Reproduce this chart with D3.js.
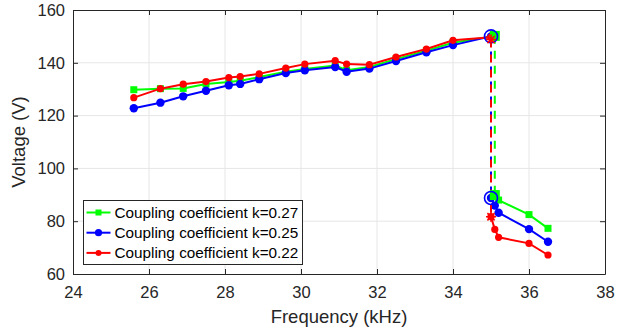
<!DOCTYPE html>
<html>
<head>
<meta charset="utf-8">
<script src="https://cdn.jsdelivr.net/npm/d3@7"></script>
<style>
  body { margin: 0; background: #fff; }
  #container { width: 627px; height: 334px; }
  text { font-family: "Liberation Sans", Arial, Helvetica, sans-serif; fill: #262626; }
</style>
</head>
<body>
<div id="container"></div>
<script>
// ---- data ----
var xTicks = [24, 26, 28, 30, 32, 34, 36, 38];
var yTicks = [60, 80, 100, 120, 140, 160];

var upperFreq = [25.6, 26.3, 26.9, 27.5, 28.1, 28.4, 28.9, 29.6, 30.1, 30.9, 31.2, 31.8, 32.5, 33.3, 34.0];

var greenFreq = upperFreq.concat([35.1]);
var greenUpper = [129.8, 130.2, 130.3, 132.0, 132.7, 133.2, 134.6, 136.6, 137.7, 139.0, 137.2, 138.4, 141.4, 144.6, 147.6, 150.2];
var blueFreq = upperFreq.concat([35.0]);
var blueUpper = [122.8, 124.9, 127.3, 129.4, 131.5, 132.0, 133.8, 136.1, 137.2, 138.4, 136.6, 137.8, 140.7, 144.0, 146.7, 150.0];
var redFreq = upperFreq.concat([35.0]);
var redUpper = [126.8, 130.2, 131.9, 132.9, 134.4, 134.8, 135.8, 138.0, 139.5, 140.8, 139.5, 139.3, 142.2, 145.2, 148.5, 149.7];

var greenLowFreq = [35.1, 35.2, 36.0, 36.5];
var greenLow = [89.9, 88.0, 82.5, 77.3];
var blueLowFreq = [35.0, 35.1, 35.2, 36.0, 36.5];
var blueLow = [88.8, 85.9, 83.2, 77.0, 72.2];
var redLowFreq = [35.0, 35.1, 35.2, 36.0, 36.5];
var redLow = [81.7, 76.9, 73.9, 71.6, 67.2];

// jump (dashed) segments: frequency, [from, to]
var greenJump = [35.1, 150.2, 89.9];
var blueJump = [35.0, 150.0, 88.8];
var redJump = [35.0, 148.8, 81.7];

var legendLabels = ["Coupling coefficient k=0.27", "Coupling coefficient k=0.25", "Coupling coefficient k=0.22"];

// ---- chart ----
var W = 627, H = 334;
var margin = { top: 10, right: 22, bottom: 60, left: 73 };
var width = W - margin.left - margin.right;
var height = H - margin.top - margin.bottom;

var svg = d3.select("#container").append("svg")
    .attr("width", W)
    .attr("height", H);

var g = svg.append("g")
    .attr("transform", `translate(${margin.left},${margin.top})`);

var x = d3.scaleLinear().domain([24, 38]).range([0, width]);
var y = d3.scaleLinear().domain([60, 160]).range([height, 0]);

// grid
g.append("g").selectAll("line").data(xTicks.slice(1, -1)).enter().append("line")
    .attr("x1", d => x(d)).attr("x2", d => x(d))
    .attr("y1", 0).attr("y2", height)
    .style("stroke", "#e6e6e6").style("stroke-width", 1);
g.append("g").selectAll("line").data(yTicks.slice(1, -1)).enter().append("line")
    .attr("y1", d => y(d)).attr("y2", d => y(d))
    .attr("x1", 0).attr("x2", width)
    .style("stroke", "#e6e6e6").style("stroke-width", 1);

// axes
var xAxis = g.append("g")
    .attr("transform", `translate(0,${height})`)
    .call(d3.axisBottom(x).tickValues(xTicks).tickSizeInner(-5).tickSizeOuter(0).tickPadding(12));
var xTop = g.append("g")
    .call(d3.axisTop(x).tickValues(xTicks).tickSizeInner(-5).tickSizeOuter(0).tickFormat(""));
var yAxis = g.append("g")
    .call(d3.axisLeft(y).tickValues(yTicks).tickSizeInner(-5).tickSizeOuter(0).tickPadding(8));
var yRight = g.append("g")
    .attr("transform", `translate(${width},0)`)
    .call(d3.axisRight(y).tickValues(yTicks).tickSizeInner(-5).tickSizeOuter(0).tickFormat(""));

[xAxis, xTop, yAxis, yRight].forEach(a => {
    a.select(".domain").style("stroke", "#262626").style("stroke-width", 1);
    a.selectAll(".tick line").style("stroke", "#262626");
    a.selectAll("text").style("font-size", "16.5px").style("fill", "#262626");
});

// axis labels
g.append("text")
    .attr("x", width / 2)
    .attr("y", height + 49)
    .attr("text-anchor", "middle")
    .style("font-size", "18.5px")
    .text("Frequency (kHz)");

g.append("text")
    .attr("transform", `translate(${-48},${height / 2}) rotate(-90)`)
    .attr("text-anchor", "middle")
    .style("font-size", "18.5px")
    .text("Voltage (V)");

var line = d3.line().x(d => x(d[0])).y(d => y(d[1]));

function zip(xs, ys) { return xs.map((v, i) => [v, ys[i]]); }

function drawSeries(pts, color, marker) {
    g.append("path")
        .datum(pts)
        .attr("d", line)
        .style("fill", "none")
        .style("stroke", color)
        .style("stroke-width", 2);
    if (marker === "square") {
        g.append("g").selectAll("rect").data(pts).enter().append("rect")
            .attr("x", d => x(d[0]) - 3.5).attr("y", d => y(d[1]) - 3.5)
            .attr("width", 7).attr("height", 7)
            .style("fill", color);
    } else {
        g.append("g").selectAll("circle").data(pts).enter().append("circle")
            .attr("cx", d => x(d[0])).attr("cy", d => y(d[1]))
            .attr("r", marker === "small" ? 3.6 : 4.2)
            .style("fill", color);
    }
}

function drawJump(j, color) {
    g.append("line")
        .attr("x1", x(j[0])).attr("x2", x(j[0]))
        .attr("y1", y(j[1])).attr("y2", y(j[2]))
        .style("stroke", color)
        .style("stroke-width", 2)
        .style("stroke-dasharray", "8,7");
}

// green
drawSeries(zip(greenFreq, greenUpper), "#00ff00", "square");
drawSeries(zip(greenLowFreq, greenLow), "#00ff00", "square");
drawJump(greenJump, "#00ff00");
// blue
drawSeries(zip(blueFreq, blueUpper), "#0000ff", "circle");
drawSeries(zip(blueLowFreq, blueLow), "#0000ff", "circle");
drawJump(blueJump, "#0000ff");
// red
drawSeries(zip(redFreq, redUpper), "#ff0000", "small");
drawSeries(zip(redLowFreq, redLow), "#ff0000", "small");
drawJump(redJump, "#ff0000");

// jump end markers
[greenJump[1], greenJump[2]].forEach(v => {
    g.append("rect")
        .attr("x", x(greenJump[0]) - 5).attr("y", y(v) - 5)
        .attr("width", 10).attr("height", 10)
        .style("fill", "#00ff00");
});
[blueJump[1], blueJump[2]].forEach(v => {
    g.append("circle")
        .attr("cx", x(blueJump[0])).attr("cy", y(v))
        .attr("r", 6.5)
        .style("fill", "none")
        .style("stroke", "#0000ff")
        .style("stroke-width", 1.6);
});
[redJump[1], redJump[2]].forEach(v => {
    var cx = x(redJump[0]), cy = y(v), s = 5;
    g.append("path")
        .attr("d", `M${cx - s},${cy}L${cx + s},${cy}M${cx},${cy - s}L${cx},${cy + s}` +
            `M${cx - s * 0.72},${cy - s * 0.72}L${cx + s * 0.72},${cy + s * 0.72}` +
            `M${cx - s * 0.72},${cy + s * 0.72}L${cx + s * 0.72},${cy - s * 0.72}`)
        .style("stroke", "#ff0000")
        .style("stroke-width", 1.6)
        .style("fill", "none");
});

// legend
var legend = svg.append("g").attr("transform", "translate(83.5,200.5)");
legend.append("rect")
    .attr("width", 219).attr("height", 64)
    .style("fill", "#fff")
    .style("stroke", "#262626")
    .style("stroke-width", 1);

var legendColors = ["#00ff00", "#0000ff", "#ff0000"];
legendLabels.forEach((lab, i) => {
    var ly = 12 + i * 20.2;
    legend.append("line")
        .attr("x1", 3).attr("x2", 27).attr("y1", ly).attr("y2", ly)
        .style("stroke", legendColors[i]).style("stroke-width", 2);
    if (i === 0) {
        legend.append("rect").attr("x", 12).attr("y", ly - 3).attr("width", 6).attr("height", 6)
            .style("fill", legendColors[i]);
    } else {
        legend.append("circle").attr("cx", 15).attr("cy", ly).attr("r", i === 1 ? 3.6 : 3)
            .style("fill", legendColors[i]);
    }
    legend.append("text")
        .attr("x", 31).attr("y", ly)
        .attr("dy", "0.36em")
        .style("font-size", "15.3px")
        .style("fill", "#000")
        .text(lab);
});
</script>
</body>
</html>
